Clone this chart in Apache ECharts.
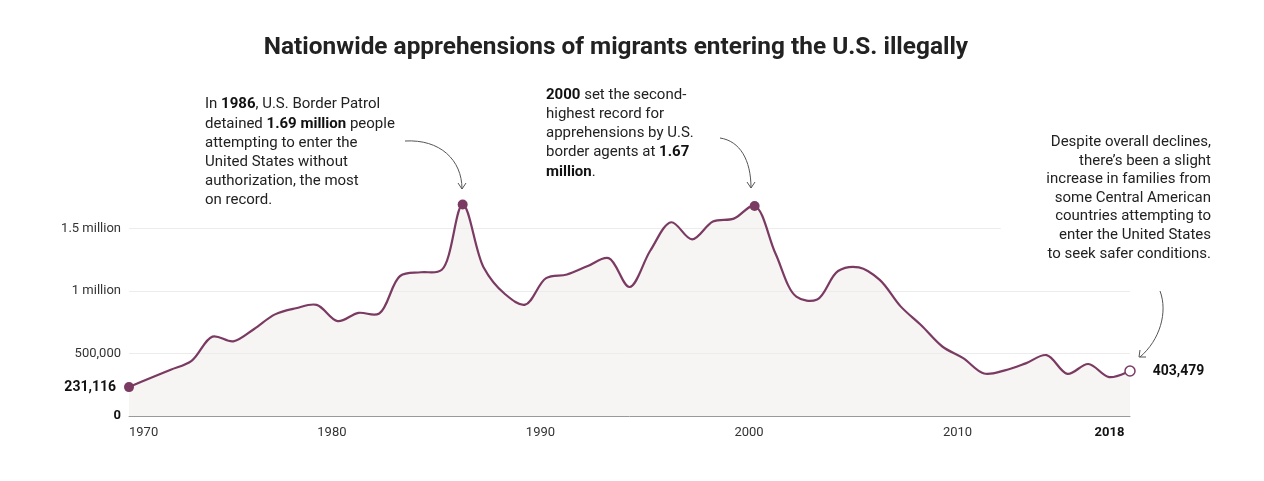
<!DOCTYPE html>
<html>
<head>
<meta charset="utf-8">
<script src="https://cdn.jsdelivr.net/npm/echarts@6/dist/echarts.min.js"></script>
<style>
  html, body { margin: 0; padding: 0; background: #fff; }
  #chart { width: 1264px; height: 481px; }
</style>
</head>
<body>
<div id="chart"></div>
<script>
// ---- data ----
const years = [1970,1971,1972,1973,1974,1975,1976,1977,1978,1979,
               1980,1981,1982,1983,1984,1985,1986,1987,1988,1989,
               1990,1991,1992,1993,1994,1995,1996,1997,1998,1999,
               2000,2001,2002,2003,2004,2005,2006,2007,2008,2009,
               2010,2011,2012,2013,2014,2015,2016,2017,2018];
const apprehensions = [231116,302000,370000,441000,635000,597000,696000,813000,862000,889000,
                       759000,825000,820000,1120000,1150000,1170000,1692000,1190000,980000,891000,
                       1103000,1132000,1200000,1263000,1032000,1324000,1550000,1413000,1556000,1579000,
                       1680000,1300000,955000,932000,1160000,1189000,1089000,877000,724000,556000,
                       463000,340000,365000,421000,487000,337000,416000,311000,360000];
const yTicks = [0, 500000, 1000000, 1500000];
const yTickLabels = ['0', '500,000', '1 million', '1.5 million'];
const xTickLabels = ['1970', '1980', '1990', '2000', '2010', '2018'];
const highlightYears = [1970, 1986, 2000, 2018];
const startLabel = '231,116';
const endLabel = '403,479';
const titleText = 'Nationwide apprehensions of migrants entering the U.S. illegally';

// ---- styling ----
const PURPLE = '#7b3a62';
const FILL = '#f6f5f3';
const FONT = 'Roboto, "Liberation Sans", sans-serif';
// label anchor positions on the x scale (labels sit slightly left of the yearly points)
const xLabelPos = [1970, 1979.73, 1989.73, 1999.73, 2009.73, 2017.73];

// centripetal Catmull-Rom (alpha 0.5) path through pixel points
function catmullRomPath(P) {
  const alpha = 0.5, eps = 1e-12;
  const dist = (a, b) => Math.hypot(a[0] - b[0], a[1] - b[1]);
  let d = 'M' + P[0][0] + ',' + P[0][1];
  const n = P.length;
  for (let i = 0; i < n - 1; i++) {
    const p0 = i > 0 ? P[i - 1] : P[i];
    const p1 = P[i], p2 = P[i + 1];
    const last = i + 2 >= n;
    const p3 = last ? P[i + 1] : P[i + 2];
    const l01 = dist(p0, p1), l12 = dist(p1, p2), l23 = last ? l12 : dist(p2, p3);
    const l01a = Math.pow(l01, alpha), l01_2a = Math.pow(l01, 2 * alpha);
    const l12a = Math.pow(l12, alpha), l12_2a = Math.pow(l12, 2 * alpha);
    const l23a = Math.pow(l23, alpha), l23_2a = Math.pow(l23, 2 * alpha);
    let c1 = [p1[0], p1[1]], c2 = [p2[0], p2[1]];
    if (i > 0 && l01a > eps) {
      const a = 2 * l01_2a + 3 * l01a * l12a + l12_2a, m = 3 * l01a * (l01a + l12a);
      c1 = [(p1[0] * a - p0[0] * l12_2a + p2[0] * l01_2a) / m,
            (p1[1] * a - p0[1] * l12_2a + p2[1] * l01_2a) / m];
    }
    if (l23a > eps) {
      const b = 2 * l23_2a + 3 * l23a * l12a + l12_2a, m = 3 * l23a * (l23a + l12a);
      c2 = [(p2[0] * b + p1[0] * l23_2a - p3[0] * l12_2a) / m,
            (p2[1] * b + p1[1] * l23_2a - p3[1] * l12_2a) / m];
    }
    d += ' C' + c1[0] + ',' + c1[1] + ' ' + c2[0] + ',' + c2[1] + ' ' + p2[0] + ',' + p2[1];
  }
  return d;
}

function curvePoints(api) {
  return years.map((y, i) => api.coord([y, apprehensions[i]]));
}

const dotData = highlightYears.map((y) => {
  const item = { value: [y, apprehensions[years.indexOf(y)]] };
  if (y === 1970) {
    item.label = { show: true, position: 'left', distance: 8, formatter: startLabel,
      fontWeight: 'bold', fontSize: 14, color: '#111', fontFamily: FONT };
  }
  if (y === 2018) {
    item.itemStyle = { color: '#fff', borderColor: PURPLE, borderWidth: 1.5 };
    item.label = { show: true, position: 'right', distance: 17, formatter: endLabel,
      fontWeight: 'bold', fontSize: 14, color: '#111', fontFamily: FONT };
  }
  return item;
});

const chart = echarts.init(document.getElementById('chart'), null, { renderer: 'canvas' });
chart.setOption({
  animation: false,
  backgroundColor: '#fff',
  title: {
    text: titleText,
    left: 611, top: 31, textAlign: 'center',
    textStyle: { fontFamily: '"Liberation Sans Narrow", Roboto, sans-serif', fontSize: 24.4, fontWeight: 'bold', color: '#222' }
  },
  grid: { left: 129, right: 134, top: 166, bottom: 65 },
  xAxis: {
    type: 'value', min: 1970, max: 2018,
    axisLine: { show: true, lineStyle: { color: '#999', width: 1 } },
    axisTick: { show: false },
    splitLine: { show: false },
    axisLabel: {
      customValues: xLabelPos,
      margin: 10,
      fontSize: 13, color: '#333', fontFamily: FONT,
      alignMinLabel: 'left', alignMaxLabel: 'right',
      formatter: function (v) {
        const s = String(Math.round(v));
        return s === '2018' ? '{b|' + s + '}' : s;
      },
      rich: { b: { fontWeight: 'bold', color: '#111', fontSize: 13, fontFamily: FONT } }
    }
  },
  yAxis: {
    type: 'value', min: 0, max: 2000000,
    axisLine: { show: false }, axisTick: { show: false }, splitLine: { show: false },
    axisLabel: {
      customValues: yTicks,
      margin: 8,
      fontSize: 13, color: '#333', fontFamily: FONT,
      formatter: function (v) {
        const idx = yTicks.indexOf(v);
        const s = idx >= 0 ? yTickLabels[idx] : '';
        return v === 0 ? '{b|' + s + '}' : s;
      },
      rich: { b: { fontWeight: 'bold', color: '#111', fontSize: 13, fontFamily: FONT } }
    }
  },
  series: [
    {
      // shaded area under the curve
      name: 'area', type: 'custom', z: 1, silent: true,
      data: years.map((y, i) => [y, apprehensions[i]]),
      encode: { x: 0, y: 1 },
      renderItem: function (params, api) {
        if (params.dataIndex !== 0) return null;
        const pts = curvePoints(api);
        const b0 = api.coord([years[0], 0]);
        const b1 = api.coord([years[years.length - 1], 0]);
        const d = catmullRomPath(pts) + ' L' + b1[0] + ',' + b1[1] + ' L' + b0[0] + ',' + b0[1] + ' Z';
        return { type: 'path', shape: { pathData: d }, style: { fill: FILL, stroke: null } };
      }
    },
    {
      // apprehensions line
      name: 'Apprehensions', type: 'custom', z: 10, silent: true,
      data: years.map((y, i) => [y, apprehensions[i]]),
      encode: { x: 0, y: 1 },
      renderItem: function (params, api) {
        if (params.dataIndex !== 0) return null;
        const d = catmullRomPath(curvePoints(api));
        return { type: 'path', shape: { pathData: d },
          style: { fill: 'none', stroke: PURPLE, lineWidth: 2.2, lineJoin: 'round', lineCap: 'round' } };
      }
    },
    {
      // highlighted points + gridlines
      name: 'highlights', type: 'scatter', z: 11, silent: true,
      data: dotData,
      symbol: 'circle', symbolSize: 10,
      itemStyle: { color: PURPLE, opacity: 1 },
      emphasis: { disabled: true },
      markLine: {
        silent: true, symbol: 'none', label: { show: false }, z: 5,
        lineStyle: { color: '#ececec', width: 1, type: 'solid' },
        emphasis: { disabled: true },
        data: [
          [{ coord: [1970, yTicks[1]] }, { coord: [2018, yTicks[1]] }],
          [{ coord: [1970, yTicks[2]] }, { coord: [2018, yTicks[2]] }],
          [{ coord: [1970, yTicks[3]] }, { coord: [2011.8, yTicks[3]] }]
        ]
      }
    }
  ],
  graphic: [
    {
      type: 'text', x: 205, y: 95,
      style: {
        text: 'In {b|1986}, U.S. Border Patrol\ndetained {b|1.69 million} people\nattempting to enter the\nUnited States without\nauthorization, the most\non record.',
        fontFamily: FONT, fontSize: 15, lineHeight: 19.2, fill: '#222',
        rich: { b: { fontWeight: 'bold', fontFamily: FONT, fontSize: 15, lineHeight: 19.2, fill: '#111' } }
      }
    },
    {
      type: 'text', x: 546, y: 85.5,
      style: {
        text: '{b|2000} set the second-\nhighest record for\napprehensions by U.S.\nborder agents at {b|1.67}\n{b|million}.',
        fontFamily: FONT, fontSize: 15, lineHeight: 19.2, fill: '#222',
        rich: { b: { fontWeight: 'bold', fontFamily: FONT, fontSize: 15, lineHeight: 19.2, fill: '#111' } }
      }
    },
    {
      type: 'text', x: 1211, y: 133,
      style: {
        text: 'Despite overall declines,\nthere\u2019s been a slight\nincrease in families from\nsome Central American\ncountries attempting to\nenter the United States\nto seek safer conditions.',
        align: 'right',
        fontFamily: FONT, fontSize: 15, lineHeight: 18.6, fill: '#222'
      }
    },
    // arrows
    { type: 'bezierCurve', shape: { x1: 405, y1: 141, cpx1: 440, cpy1: 139, cpx2: 462, cpy2: 160, x2: 462, y2: 189 },
      style: { stroke: '#555', lineWidth: 1, fill: null } },
    { type: 'polyline', shape: { points: [[458, 183], [462, 189], [466, 183]] }, style: { stroke: '#555', lineWidth: 1, fill: null } },
    { type: 'bezierCurve', shape: { x1: 720, y1: 138, cpx1: 740, cpy1: 141, cpx2: 751, cpy2: 160, x2: 751, y2: 188 },
      style: { stroke: '#555', lineWidth: 1, fill: null } },
    { type: 'polyline', shape: { points: [[747, 182], [751, 188], [755, 182]] }, style: { stroke: '#555', lineWidth: 1, fill: null } },
    { type: 'bezierCurve', shape: { x1: 1160, y1: 291, cpx1: 1168, cpy1: 312, cpx2: 1160, cpy2: 340, x2: 1140, y2: 357 },
      style: { stroke: '#555', lineWidth: 1, fill: null } },
    { type: 'polyline', shape: { points: [[1140, 350], [1139, 357], [1146, 357]] }, style: { stroke: '#555', lineWidth: 1, fill: null } }
  ]
});
</script>
</body>
</html>
